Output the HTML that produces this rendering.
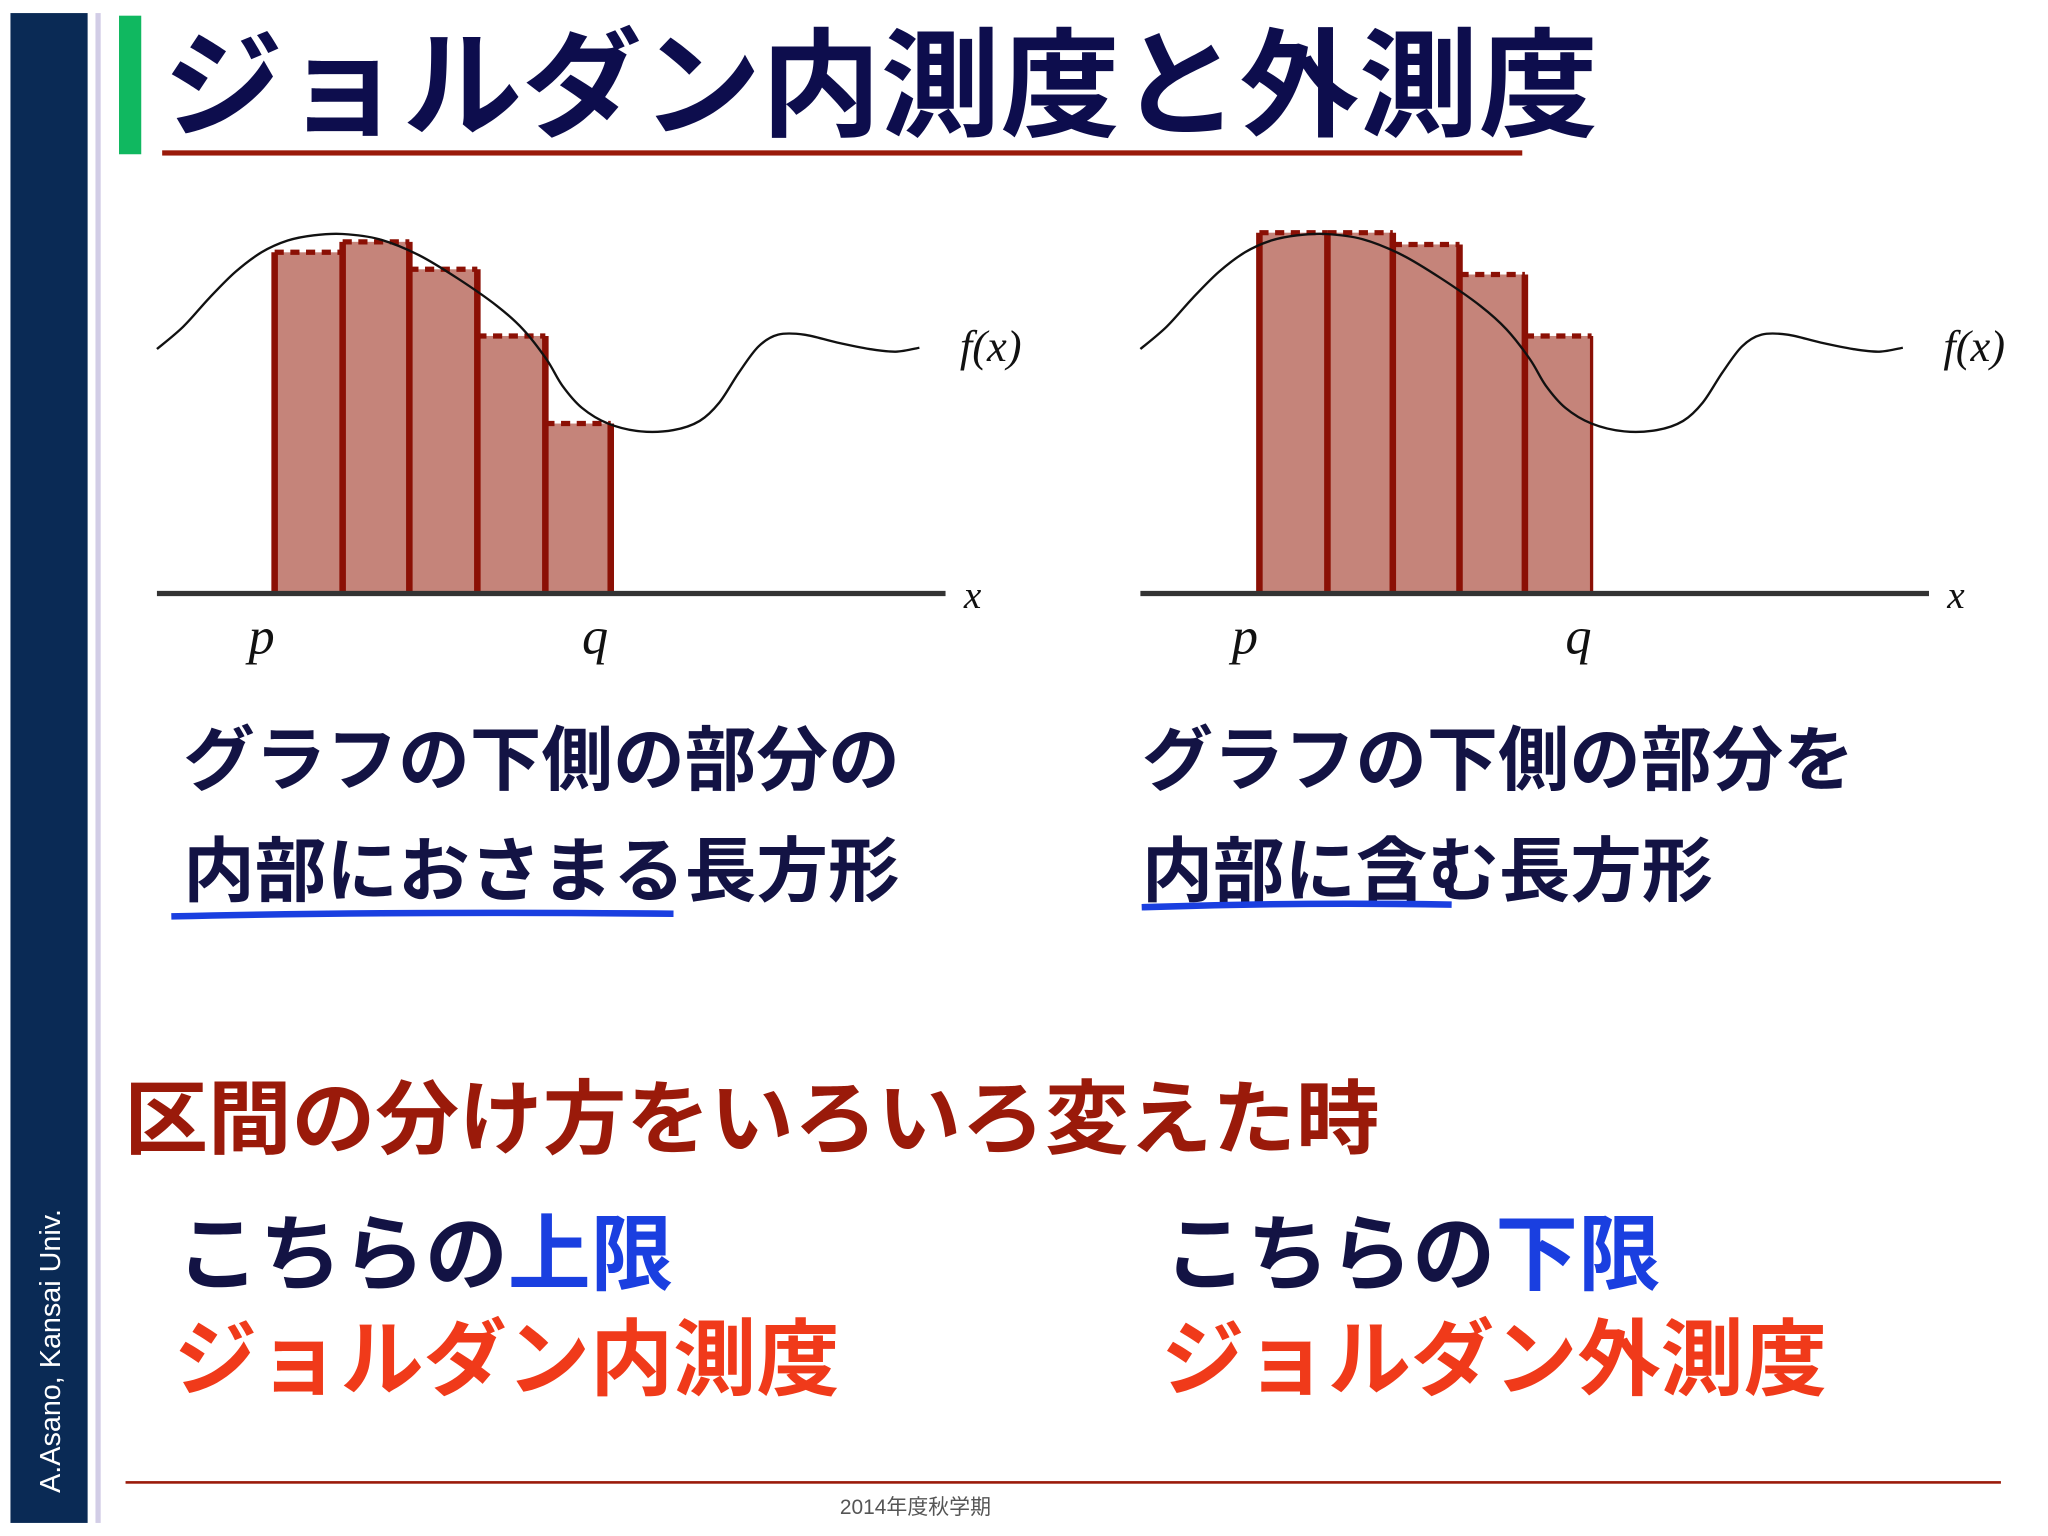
<!DOCTYPE html>
<html><head><meta charset="utf-8"><style>
html,body{margin:0;padding:0;background:#fff;}
svg{display:block;}
text{font-family:"Liberation Sans","Noto Sans CJK JP",sans-serif;}
.m{font-family:"Liberation Serif",serif;font-style:italic;}
</style></head><body>
<svg id="s" width="2048" height="1536" viewBox="0 0 1566 1175" preserveAspectRatio="none" xmlns="http://www.w3.org/2000/svg">
<rect x="8" y="10" width="59" height="1155" fill="#0a2a55"/>
<text transform="translate(46,1142) rotate(-90)" font-size="22" fill="#fff">A.Asano, Kansai Univ.</text>
<rect x="73" y="10" width="4" height="1155" fill="#d2cde6"/>
<rect x="91" y="12" width="17" height="106" fill="#10b860"/>
<text x="125" y="97" font-size="90" font-weight="bold" fill="#0d0d4d" textLength="1097" lengthAdjust="spacingAndGlyphs">ジョルダン内測度と外測度</text>
<rect x="124" y="115" width="1040" height="4" fill="#9a1a0a"/>
<g id="charts"></g>
<text x="140" y="600" font-size="54" font-weight="bold" fill="#131344" textLength="548" lengthAdjust="spacingAndGlyphs">グラフの下側の部分の</text>
<text x="140" y="685" font-size="54" font-weight="bold" fill="#131344" textLength="548" lengthAdjust="spacingAndGlyphs">内部におさまる長方形</text>
<path d="M131 701 Q300 697 515 699" stroke="#1a3fe0" stroke-width="5" fill="none"/>
<text x="873" y="600" font-size="54" font-weight="bold" fill="#131344" textLength="545" lengthAdjust="spacingAndGlyphs">グラフの下側の部分を</text>
<text x="873" y="685" font-size="54" font-weight="bold" fill="#131344" textLength="437" lengthAdjust="spacingAndGlyphs">内部に含む長方形</text>
<path d="M873 694 Q990 690 1110 692" stroke="#1a3fe0" stroke-width="5" fill="none"/>
<text x="95" y="878" font-size="62" font-weight="bold" fill="#9a1a0a" textLength="960" lengthAdjust="spacingAndGlyphs">区間の分け方をいろいろ変えた時</text>
<text x="135" y="982" font-size="64" font-weight="bold" fill="#131344" textLength="380" lengthAdjust="spacingAndGlyphs">こちらの<tspan fill="#1a3fe0">上限</tspan></text>
<text x="133" y="1062" font-size="64" font-weight="bold" fill="#f03a1a" textLength="509" lengthAdjust="spacingAndGlyphs">ジョルダン内測度</text>
<text x="890" y="982" font-size="64" font-weight="bold" fill="#131344" textLength="380" lengthAdjust="spacingAndGlyphs">こちらの<tspan fill="#1a3fe0">下限</tspan></text>
<text x="888" y="1062" font-size="64" font-weight="bold" fill="#f03a1a" textLength="509" lengthAdjust="spacingAndGlyphs">ジョルダン外測度</text>
<rect x="96" y="1133" width="1434" height="2" fill="#9a1a0a"/>
<text x="700" y="1158" font-size="16" fill="#555" text-anchor="middle">2014年度秋学期</text>
</svg>
<script>
const curveX=[0,20,40,60,80,100,120,142,170,200,230,260,280,298,310,325,345,370,395,415,430,445,460,475,495,520,545,565,583];
const curveY=[187,204,226,246,261,270,274,275,271,259,241,220,202,179,159,142,130,124,125,132,146,169,189,198,198,192,187,185,188];
const leftEdges=[90,142,193,245,297,347];
const leftHeights=[261,269,248,197,130];
const rightEdges=[91,143,193,244,294,345];
const rightHeights=[276,276,267,244,197];
const NS="http://www.w3.org/2000/svg";
const g=document.getElementById('charts');
function mk(t,a){const e=document.createElementNS(NS,t);for(const k in a)e.setAttribute(k,a[k]);g.appendChild(e);return e;}
function smooth(p){
  let d='M'+p[0][0]+' '+p[0][1];
  for(let i=0;i<p.length-1;i++){
    const p0=p[Math.max(0,i-1)],p1=p[i],p2=p[i+1],p3=p[Math.min(p.length-1,i+2)];
    const c1x=p1[0]+(p2[0]-p0[0])/6,c1y=p1[1]+(p2[1]-p0[1])/6;
    const c2x=p2[0]-(p3[0]-p1[0])/6,c2y=p2[1]-(p3[1]-p1[1])/6;
    d+=' C'+c1x+' '+c1y+' '+c2x+' '+c2y+' '+p2[0]+' '+p2[1];
  }
  return d;
}
function chart(ox,edges,heights,side){
  const xs=v=>ox+v, ys=v=>454-v;
  for(let i=0;i<heights.length;i++){
    const r=mk('rect',{x:xs(edges[i]),y:ys(heights[i]),width:xs(edges[i+1])-xs(edges[i]),height:heights[i],fill:'#c5847a'});
    
    
    const d=mk('line',{x1:xs(edges[i]),x2:xs(edges[i+1]),y1:ys(heights[i]),y2:ys(heights[i]),stroke:'#8b1005','stroke-width':4,'stroke-dasharray':'7 5'});
    
    
  }
  for(let i=0;i<edges.length;i++){
    const h=Math.max(i>0?heights[i-1]:0,i<heights.length?heights[i]:0);
    const w=(i===edges.length-1&&side==='right')?2.5:5;
    const l=mk('line',{x1:xs(edges[i]),x2:xs(edges[i]),y1:454,y2:ys(h),stroke:'#8b1005','stroke-width':w});
    
    
  }
  const ax=mk('line',{x1:ox,x2:ox+603,y1:454,y2:454,stroke:'#333','stroke-width':4});
  
  
  const pts=curveX.map((v,i)=>[xs(v),ys(curveY[i])]);
  const c=mk('path',{d:smooth(pts),fill:'none',stroke:'#111','stroke-width':1.8});
  
  
  const labs=[['x',ox+617,465,30,'x-axis-label'],['p',ox+70,500,40,'p-label'],['q',ox+325,500,40,'q-label'],['f(x)',ox+614,276,34,'fx-label']];
  for(const L of labs){
    const t=mk('text',{x:L[1],y:L[2],'font-size':L[3],class:'m',fill:'#111'});
    t.textContent=L[0];
    
    
  }
}
chart(120,leftEdges,leftHeights,'left');
chart(872,rightEdges,rightHeights,'right');
</script>
</body></html>
